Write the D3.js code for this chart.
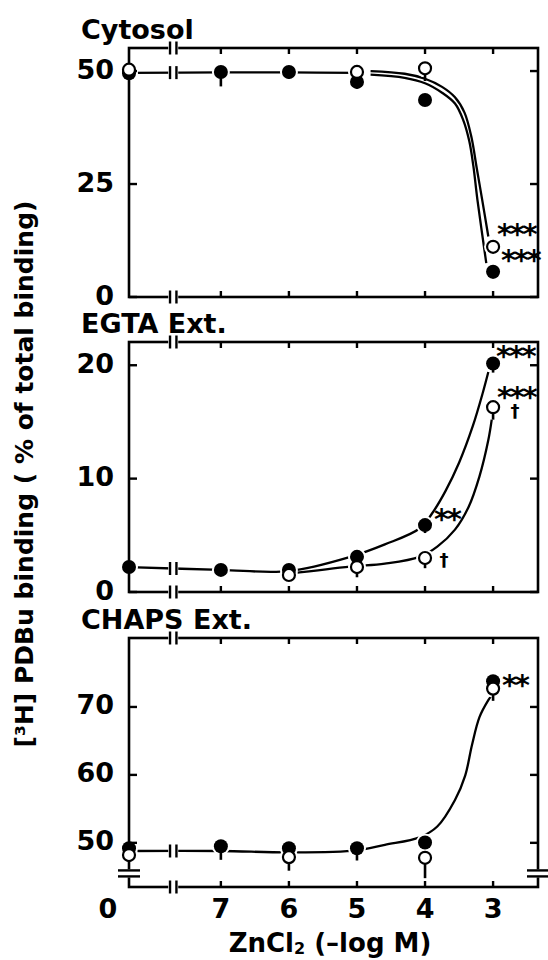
<!DOCTYPE html>
<html><head><meta charset="utf-8">
<script src="https://cdn.jsdelivr.net/npm/d3@7/dist/d3.min.js"></script>
<style>html,body{margin:0;padding:0;background:#fff}</style>
</head><body>
<svg id="chart" width="548" height="960"></svg>
<script>
// ---- data ----------------------------------------------------------------
// ZnCl2 concentration as -log M; null = no ZnCl2 added (control)
const conc = [null, 7, 6, 5, 4, 3];
const xTickLabels = ["0", "7", "6", "5", "4", "3"];

const panelTitles = ["Cytosol", "EGTA Ext.", "CHAPS Ext."];
const yTicks = [[0, 25, 50], [0, 10, 20], [50, 60, 70]];
const yDomains = [[0, 55.1], [0, 22.05], [43.5, 80.15]];

// [3H]PDBu binding, % of total binding (null = symbol hidden under the other one)
const cytoFilled    = [49.5, 49.8, 49.8, 47.6, 43.6, 5.6];
const cytoFilledSem = [0.8, 3.2, 1.5, 1.5, 1.0, 1.5];
const cytoOpen      = [50.3, null, null, 49.8, 50.6, 11.1];
const cytoOpenSem   = [0.5, 0, 0, 0.5, 2.8, 1.3];

const egtaFilled    = [2.2, 1.95, 1.95, 3.1, 5.9, 20.15];
const egtaFilledSem = [0.2, 0.3, 0.3, 0.2, 0.7, 0.8];
const egtaOpen      = [null, null, 1.5, 2.2, 3.0, 16.3];
const egtaOpenSem   = [0, 0, 0.4, 0.9, 0.9, 1.1];

const chapsFilled    = [49.2, 49.5, 49.2, 49.2, 50.05, 73.8];
const chapsFilledSem = [0.5, 2.0, 1.0, 1.8, 0.8, 0.8];
const chapsOpen      = [48.2, null, 47.9, null, 47.8, 72.7];
const chapsOpenSem   = [1.0, 0, 2.0, 0, 3.0, 1.8];

// fitted curves, [ -log M, % ] pairs
const cytoCurveShared = [[null, 49.6], [7, 49.7], [6, 49.7], [5, 49.6]];
const cytoCurveOpen = [[4.8, 50.0], [4.3, 49.4], [4.0, 48.3], [3.75, 46.5], [3.56, 44.2],
  [3.42, 40.8], [3.32, 35.5], [3.24, 28.5], [3.16, 21.5], [3.07, 13.4]];
const cytoCurveFilled = [[4.8, 49.2], [4.3, 48.5], [4.0, 47.3], [3.75, 45.2], [3.56, 42.8],
  [3.44, 39.2], [3.35, 34.5], [3.29, 29], [3.23, 21.5], [3.10, 7.5]];

const egtaCurveFilled = [[null, 2.2], [7, 1.95], [6, 1.85], [5.1, 3.1], [4.59, 4.2],
  [4.08, 5.6], [3.9, 6.9], [3.7, 8.9], [3.5, 11.4], [3.3, 14.6], [3.15, 17.6], [3.07, 19.4]];
const egtaCurveOpen = [[6, 1.6], [5.1, 2.23], [4.59, 2.5], [4.08, 3.1], [3.82, 4.0],
  [3.56, 5.5], [3.36, 7.5], [3.20, 10.2], [3.07, 13.4], [3.02, 15.2]];

const chapsCurve = [[null, 48.8], [7, 48.8], [6, 48.6], [5, 48.9], [4.59, 49.7],
  [4.08, 50.8], [3.82, 52.4], [3.56, 56.3], [3.41, 59.9], [3.31, 64.4], [3.20, 68.5],
  [3.07, 71.0], [3.0, 72.0]];

// significance marks attached to a symbol: panel, series, point index, text
const sigMarks = [
  [0, "open", 5, "***"], [0, "filled", 5, "***"],
  [1, "filled", 5, "***"], [1, "open", 5, "***"], [1, "open", 5, "†"],
  [1, "filled", 4, "**"], [1, "open", 4, "†"],
  [2, "filled", 5, "**"]
];

// ---- layout --------------------------------------------------------------
const FONT = "DejaVu Sans";
const left = 129, right = 538;
const frames = [[48, 297], [342, 592], [638, 887]];
const xBreak = 7.7;           // axis break between control and 10^-7 M

// placement of each significance mark relative to its symbol:
// [dx of text start (or centre for daggers), dy of glyph centre]
const sigPlacement = [[4, -15], [8, -14], [3, -10], [4, -12], [22, 4], [9, -8], [19, 2], [9, 2]];

const svg = d3.select("#chart");
const x = d3.scaleLinear().domain([8.35, 2.34]).range([left, right]);
const xp = c => c == null ? x(x.domain()[0]) : x(c);

const panels = [
  {filled: cytoFilled, fSem: cytoFilledSem, open: cytoOpen, oSem: cytoOpenSem,
   curves: [cytoCurveShared, cytoCurveOpen, cytoCurveFilled]},
  {filled: egtaFilled, fSem: egtaFilledSem, open: egtaOpen, oSem: egtaOpenSem,
   curves: [egtaCurveFilled, egtaCurveOpen]},
  {filled: chapsFilled, fSem: chapsFilledSem, open: chapsOpen, oSem: chapsOpenSem,
   curves: [chapsCurve]}
];

const R = 7;

// "||" break across a horizontal line at (bx, by)
function hBreak(g, bx, by) {
  g.append("rect").attr("x", bx - 5).attr("y", by - 3).attr("width", 10).attr("height", 6).attr("fill", "#fff");
  [-3.2, 3.2].forEach(d => g.append("line")
    .attr("x1", bx + d).attr("x2", bx + d).attr("y1", by - 6.5).attr("y2", by + 6.5)
    .attr("stroke", "#000").attr("stroke-width", 2.4));
}
// "=" break across a vertical line at (bx, by)
function vBreak(g, bx, by) {
  g.append("rect").attr("x", bx - 3).attr("y", by - 4).attr("width", 6).attr("height", 8).attr("fill", "#fff");
  [-3, 3].forEach(d => g.append("line")
    .attr("x1", bx - 11).attr("x2", bx + 11).attr("y1", by + d).attr("y2", by + d)
    .attr("stroke", "#000").attr("stroke-width", 2.4));
}

panels.forEach((p, i) => {
  const [top, bottom] = frames[i];
  const y = d3.scaleLinear().domain(yDomains[i]).range([bottom, top]);
  const g = svg.append("g");

  // title
  g.append("text").attr("x", 81).attr("y", top - 9)
    .attr("font-family", FONT).attr("font-weight", "bold").attr("font-size", 27)
    .text(panelTitles[i]);

  // fitted curves
  const line = d3.line().x(d => xp(d[0])).y(d => y(d[1])).curve(d3.curveCatmullRom.alpha(0.5));
  p.curves.forEach(c => g.append("path").attr("d", line(c))
    .attr("fill", "none").attr("stroke", "#000").attr("stroke-width", 2.3));

  // break on the control-to-7 segment of the curve
  const c0 = p.curves[0];
  if (c0[0][0] == null) hBreak(g, x(xBreak), y((c0[0][1] + c0[1][1]) / 2));

  // white halos leave small gaps in the curves around each symbol
  [p.filled, p.open].forEach(s => s.forEach((v, k) => {
    if (v == null) return;
    g.append("circle").attr("cx", xp(conc[k])).attr("cy", y(v)).attr("r", R + 2).attr("fill", "#fff");
  }));

  // frame
  g.append("rect").attr("x", left).attr("y", top).attr("width", right - left).attr("height", bottom - top)
    .attr("fill", "none").attr("stroke", "#000").attr("stroke-width", 2.6);

  // x ticks, top (down) and bottom (up)
  conc.slice(1).forEach(c => {
    g.append("line").attr("x1", x(c)).attr("x2", x(c)).attr("y1", top).attr("y2", top + 6)
      .attr("stroke", "#000").attr("stroke-width", 2.4);
    g.append("line").attr("x1", x(c)).attr("x2", x(c)).attr("y1", bottom).attr("y2", bottom - 6)
      .attr("stroke", "#000").attr("stroke-width", 2.4);
  });
  hBreak(g, x(xBreak), top);
  hBreak(g, x(xBreak), bottom);

  // y ticks and labels
  yTicks[i].forEach(t => {
    g.append("line").attr("x1", left).attr("x2", left + 8).attr("y1", y(t)).attr("y2", y(t))
      .attr("stroke", "#000").attr("stroke-width", 2.4);
    g.append("line").attr("x1", right).attr("x2", right - 8).attr("y1", y(t)).attr("y2", y(t))
      .attr("stroke", "#000").attr("stroke-width", 2.4);
    g.append("text").attr("x", left - 15).attr("y", y(t) + 7.5).attr("text-anchor", "end")
      .attr("font-family", FONT).attr("font-weight", "bold").attr("font-size", 27)
      .text(t);
  });
  if (i === 2) {
    vBreak(g, left, y(45.5));
    vBreak(g, right, y(45.5));
  }

  // error bars (SEM, drawn downward)
  [[p.filled, p.fSem], [p.open, p.oSem]].forEach(([s, e]) => s.forEach((v, k) => {
    if (v == null || !e[k]) return;
    g.append("line").attr("x1", xp(conc[k])).attr("x2", xp(conc[k]))
      .attr("y1", y(v)).attr("y2", y(v - e[k]))
      .attr("stroke", "#000").attr("stroke-width", 2.6);
  }));

  // symbols: filled first, open on top
  p.filled.forEach((v, k) => {
    if (v == null) return;
    g.append("circle").attr("cx", xp(conc[k])).attr("cy", y(v)).attr("r", R).attr("fill", "#000");
  });
  p.open.forEach((v, k) => {
    if (v == null) return;
    g.append("circle").attr("cx", xp(conc[k])).attr("cy", y(v)).attr("r", R - 1)
      .attr("fill", "#fff").attr("stroke", "#000").attr("stroke-width", 2.2);
  });

  // significance marks
  sigMarks.forEach(([pi, ser, k, txt], n) => {
    if (pi !== i) return;
    const v = (ser === "open" ? p.open : p.filled)[k];
    const [dx, dy] = sigPlacement[n];
    const dagger = txt === "†";
    const fs = dagger ? 18 : 29;
    g.append("text").attr("x", xp(conc[k]) + dx)
      .attr("y", y(v) + dy + (dagger ? 0.32 : 0.42) * fs)
      .attr("text-anchor", dagger ? "middle" : "start")
      .attr("letter-spacing", dagger ? 0 : -2.5)
      .attr("font-family", FONT).attr("font-weight", "bold").attr("font-size", fs)
      .text(txt);
  });

  // x tick labels under the bottom panel
  if (i === 2) {
    conc.forEach((c, k) => {
      g.append("text").attr("x", c == null ? xp(c) - 21 : xp(c)).attr("y", bottom + 31)
        .attr("text-anchor", "middle")
        .attr("font-family", FONT).attr("font-weight", "bold").attr("font-size", 27)
        .text(xTickLabels[k]);
    });
  }
});

// axis titles
const xt = svg.append("text").attr("x", 330).attr("y", 952).attr("text-anchor", "middle")
  .attr("font-family", FONT).attr("font-weight", "bold").attr("font-size", 26);
xt.append("tspan").text("ZnCl");
xt.append("tspan").attr("font-size", 16).attr("dy", 2).text("2");
xt.append("tspan").attr("dy", -2).text(" (–log M)");

svg.append("text").attr("transform", "translate(33,474) rotate(-90)")
  .attr("text-anchor", "middle")
  .attr("font-family", FONT).attr("font-weight", "bold").attr("font-size", 25)
  .text("[³H] PDBu binding ( % of total binding)");
</script>
</body></html>
